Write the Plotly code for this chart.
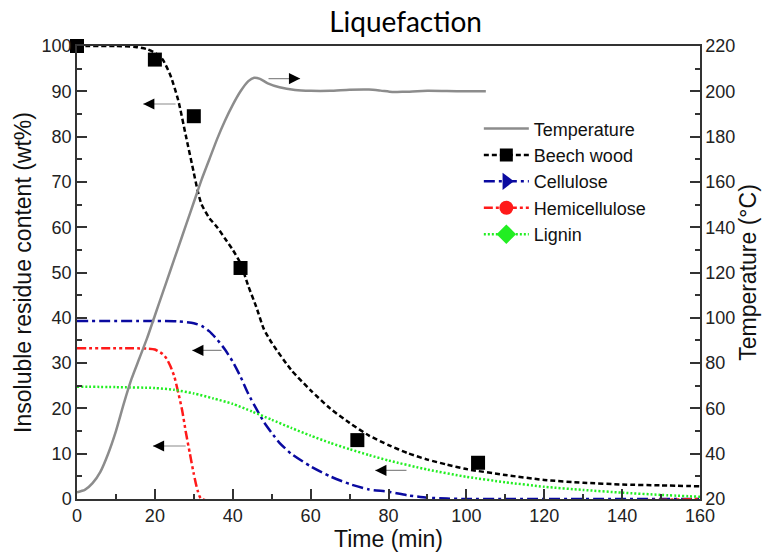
import plotly.graph_objects as go

# ---------------- data ----------------
temp_t = [0, 2, 4, 6, 8, 10, 12, 14, 16, 18, 20, 22, 24, 26, 28, 30, 32, 34, 36, 38, 40, 42, 44,
          45.5, 47, 49, 52, 56, 60, 65, 70, 75, 78, 81, 84, 90, 95, 100, 105]
temp_v = [23, 24, 27, 32, 40, 50, 62, 73, 82, 91, 101, 111, 121, 131, 141, 151, 161, 170, 179, 187,
          194, 200, 204.5, 206, 205.5, 203.5, 201.8, 200.6, 200.2, 200.2, 200.7, 200.8, 200.3, 199.7,
          199.8, 200.2, 200.1, 200, 200]

beech_t = [0, 20, 30, 42, 72, 103]
beech_v = [100, 97, 84.5, 51, 13, 8]

beech_fit_t = [0, 10, 15, 18, 20, 22, 24, 26, 28, 30, 31, 32, 34, 36, 38, 40, 42, 44, 46, 48, 50,
               55, 60, 65, 70, 75, 80, 85, 90, 95, 100, 110, 120, 130, 140, 150, 160]
beech_fit_v = [100, 100, 99.8, 99.3, 98.5, 97, 93.5, 88, 80, 72, 68, 65, 62, 60, 57.5, 55, 52, 47,
               42.5, 37.5, 34.5, 28.5, 24, 20, 16.8, 14, 11.9, 10.1, 8.7, 7.6, 6.6, 5.3, 4.2, 3.6,
               3.2, 3, 2.8]

cell_t = [0, 20, 26, 30, 32, 34, 36, 38, 40, 42, 44, 46, 48, 50, 52, 55, 60, 65, 70, 75, 80, 85,
          90, 95, 100, 110, 160]
cell_v = [39.3, 39.3, 39.2, 38.8, 38.2, 37, 35.2, 33, 30.3, 27, 23.2, 20, 17, 14.6, 12.4, 10, 7.2,
          5, 3.3, 2.1, 1.6, 0.8, 0.3, 0.1, 0, 0, 0]

hemi_t = [0, 18, 20, 22, 23, 24, 25, 26, 27, 28, 29, 30, 31, 32, 160]
hemi_v = [33.3, 33.2, 33, 32, 31, 29.3, 27, 23.5, 19.6, 14.5, 10, 5.5, 1.8, 0, 0]

lig_t = [0, 10, 20, 25, 30, 35, 40, 45, 50, 55, 60, 65, 70, 75, 80, 90, 100, 110, 120, 130, 140,
         150, 160]
lig_v = [24.8, 24.7, 24.5, 24.1, 23.3, 22.2, 21, 19.3, 17.5, 15.7, 14, 12.4, 11, 9.7, 8.5, 6.5,
         4.9, 3.7, 2.7, 2, 1.4, 0.9, 0.5]

# arrows: (tail_t, head_t, y)
arrows_left = [(25.7, 17.0, 87.2), (37.5, 29.6, 32.8), (28.3, 19.5, 11.7), (85.0, 76.6, 6.3)]
arrows_right = [(48.8, 57.3, 92.8)]

FONT = "Liberation Sans, Arial, sans-serif"

fig = go.Figure()

fig.add_trace(go.Scatter(x=temp_t, y=temp_v, name="Temperature", mode="lines",
                         line=dict(color="#8c8c8c", width=2.5, shape="spline", smoothing=0.6),
                         yaxis="y2"))

hidden = dict(selectedpoints=[], unselected=dict(marker=dict(opacity=0)))

fig.add_trace(go.Scatter(x=beech_fit_t, y=beech_fit_v, name="Beech wood", mode="lines+markers",
                         line=dict(color="black", width=2.5, dash="5px,3px", shape="spline",
                                   smoothing=0.6),
                         marker=dict(symbol="square", size=13, color="black"), **hidden))
fig.add_trace(go.Scatter(x=cell_t, y=cell_v, name="Cellulose", mode="lines+markers",
                         line=dict(color="#0a0aa0", width=2.5, dash="11px,4px,3px,4px",
                                   shape="spline", smoothing=0.6),
                         marker=dict(symbol="triangle-right", size=15, color="#0a0aa0"), **hidden))
fig.add_trace(go.Scatter(x=hemi_t, y=hemi_v, name="Hemicellulose", mode="lines+markers",
                         line=dict(color="#ff1a1a", width=2.5, dash="9px,3px,3px,3px,3px,3px",
                                   shape="spline", smoothing=0.6),
                         marker=dict(symbol="circle", size=14, color="#ff1a1a"), **hidden))
fig.add_trace(go.Scatter(x=lig_t, y=lig_v, name="Lignin", mode="lines+markers",
                         line=dict(color="#22ee22", width=2.5, dash="2px,2px", shape="spline",
                                   smoothing=0.6),
                         marker=dict(symbol="diamond", size=15, color="#22ee22"), **hidden))
fig.add_trace(go.Scatter(x=beech_t, y=beech_v, name="Beech wood data", mode="markers",
                         showlegend=False, cliponaxis=False,
                         marker=dict(symbol="square", size=14, color="black")))

annotations = []
for tail, head, yv in arrows_left + arrows_right:
    annotations.append(dict(x=head, y=yv, ax=tail, ay=yv, xref="x", yref="y", axref="x", ayref="y",
                            text="", showarrow=True, arrowhead=0, arrowwidth=1.2,
                            arrowcolor="#8a8a8a"))
    off = 10 if tail > head else -10
    annotations.append(dict(x=head, y=yv, ax=off, ay=0, xref="x", yref="y", text="",
                            showarrow=True, arrowhead=2, arrowsize=1.4, arrowwidth=1.6,
                            arrowcolor="black"))

axis_common = dict(ticks="inside", ticklen=10, tickwidth=1.5, tickcolor="#333",
                   showline=True, linewidth=1.5, linecolor="#333", showgrid=False, zeroline=False,
                   tickfont=dict(family=FONT, size=18, color="#222"))

fig.update_layout(
    width=768, height=560,
    margin=dict(l=77, r=68, t=46, b=53),
    paper_bgcolor="white", plot_bgcolor="white",
    title=dict(text="Liquefaction", x=405 / 768, xref="paper", xanchor="center",
               y=1 - 22 / 560, yanchor="middle",
               font=dict(family="Lato, Open Sans, sans-serif", size=28, color="black")),
    xaxis=dict(range=[0, 160], dtick=20, mirror=True,
               minor=dict(ticks="inside", dtick=10, ticklen=5, tickwidth=1.5, tickcolor="#333"),
               title=dict(text="Time (min)", font=dict(family=FONT, size=23, color="#111"),
                          standoff=6),
               **axis_common),
    yaxis=dict(range=[0, 100], dtick=10,
               minor=dict(ticks="inside", dtick=5, ticklen=5, tickwidth=1.5, tickcolor="#333"),
               title=dict(text="Insoluble residue content (wt%)",
                          font=dict(family=FONT, size=23, color="#111"), standoff=4),
               **axis_common),
    yaxis2=dict(range=[20, 220], dtick=20, overlaying="y", side="right",
                minor=dict(ticks="inside", dtick=10, ticklen=5, tickwidth=1.5, tickcolor="#333"),
                title=dict(text="Temperature (°C)", font=dict(family=FONT, size=23, color="#111"),
                           standoff=4),
                **axis_common),
    legend=dict(x=0.645, y=0.858, xanchor="left", yanchor="top", bgcolor="rgba(0,0,0,0)",
                font=dict(family=FONT, size=18, color="#111"), itemwidth=45,
                tracegroupgap=0),
    annotations=annotations,
    showlegend=True,
)

fig.write_html("out.html")
